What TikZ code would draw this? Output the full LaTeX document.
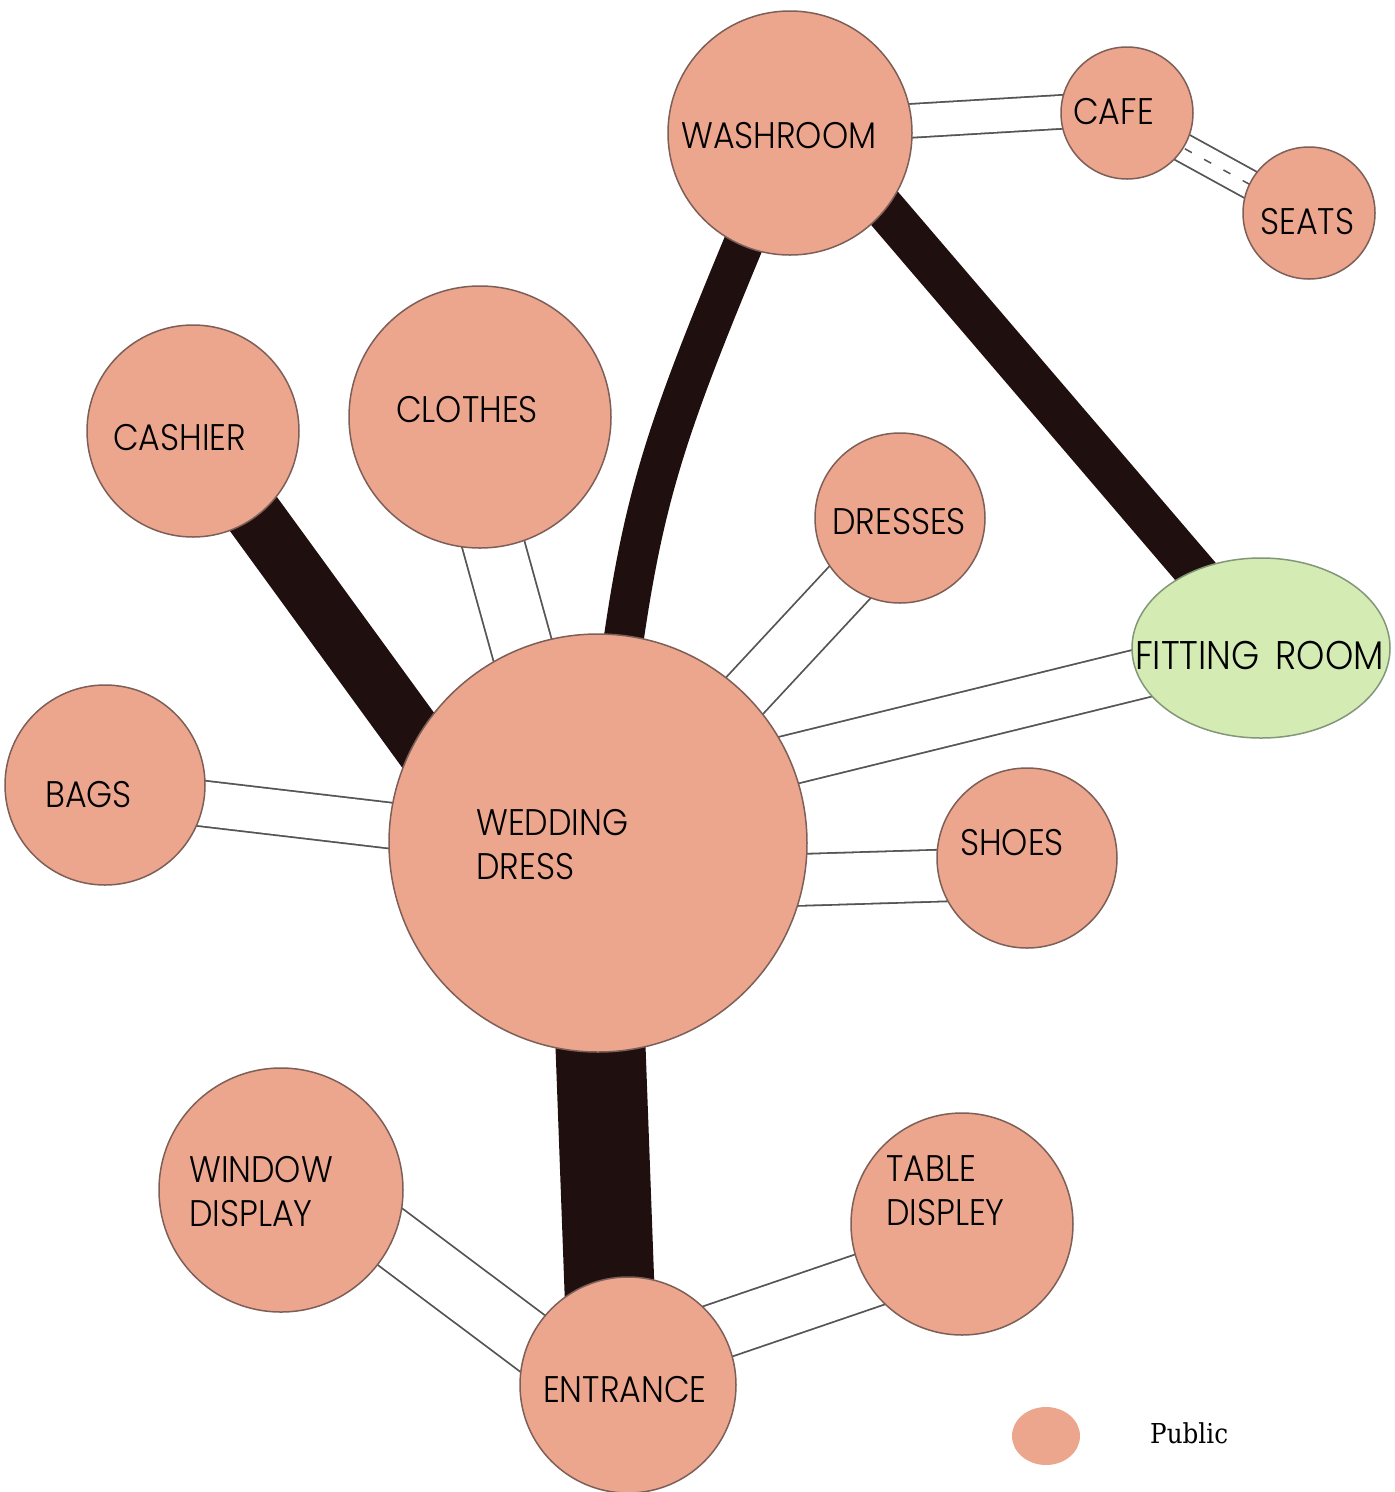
\documentclass[tikz,border=0pt]{standalone}
\usepackage{fontspec}
\usetikzlibrary{shapes.geometric,calc}
\IfFontExistsTF{Poppins Light}{\newfontfamily\lblfont{Poppins Light}[FakeStretch=0.9]}{\newfontfamily\lblfont{Poppins}[FakeStretch=0.9]}
\newfontfamily\legfont{DejaVu Serif}[FakeStretch=0.9]
\definecolor{salmon}{RGB}{236,166,142}
\definecolor{rim}{RGB}{125,95,88}
\definecolor{mint}{RGB}{212,236,180}
\definecolor{mintrim}{RGB}{130,150,120}
\definecolor{band}{RGB}{31,16,15}
\definecolor{wire}{RGB}{85,85,85}
\pgfdeclarelayer{back}\pgfdeclarelayer{bg}\pgfsetlayers{back,bg,main}
\begin{document}
\begin{tikzpicture}[x=1pt,y=-1pt,
  room/.style={circle, fill=salmon, draw=rim, line width=1.5pt, inner sep=0pt, minimum size=#1},
  fitroom/.style={ellipse, fill=mint, draw=mintrim, line width=1.5pt, inner sep=0pt, minimum width=258pt, minimum height=180pt},
  lbl/.style={font=\lblfont\fontsize{37}{44}\selectfont, inner sep=0pt, align=left, text=black},
  heavy/.style={draw=band, line width=#1},
  twin/.style={draw=wire, line width=1.8pt, double=white, double distance=#1},
]
\begin{pgfonlayer}{back}
\fill[white] (0,0) rectangle (1395,1492);
\end{pgfonlayer}
\useasboundingbox (0,0) rectangle (1395,1492);

% rooms
\node[room=244pt] (wash) at (790,133) {};
\node[room=132pt] (cafe) at (1127,113) {};
\node[room=132pt] (seats) at (1309,213) {};
\node[room=212pt] (cash) at (193,431) {};
\node[room=262pt] (cloth) at (480,417) {};
\node[room=170pt] (dress) at (900,518) {};
\node[fitroom] (fit) at (1261,648) {};
\node[room=200pt] (bags) at (105,785) {};
\node[room=418pt] (wed) at (598,843) {};
\node[room=180pt] (shoes) at (1027,858) {};
\node[room=244pt] (win) at (281,1190) {};
\node[room=222pt] (table) at (962,1224) {};
\node[room=216pt] (ent) at (628,1385) {};

% labels
\node[lbl, anchor=west] (t-wash) at (681,136) {WASHROOM};
\node[lbl, anchor=west] (t-cafe) at (1073,112) {CAFE};
\node[lbl, anchor=west] (t-seats) at (1260,222) {SEATS};
\node[lbl, anchor=west] (t-cash) at (113,438) {CASHIER};
\node[lbl, anchor=west] (t-cloth) at (396,410) {CLOTHES};
\node[lbl, anchor=west] (t-dress) at (832,522) {DRESSES};
\node[lbl, anchor=west, font=\lblfont\fontsize{40}{46}\selectfont] (t-fit) at (1135,655) {FITTING\hspace{16pt}ROOM};
\node[lbl, anchor=west] (t-bags) at (45,795) {BAGS};
\node[lbl, anchor=north west] (t-wed) at (476,809) {WEDDING\\DRESS};
\node[lbl, anchor=west] (t-shoes) at (960,843) {SHOES};
\node[lbl, anchor=north west] (t-win) at (189,1156) {WINDOW\\DISPLAY};
\node[lbl, anchor=north west] (t-table) at (886,1155) {TABLE\\DISPLEY};
\node[lbl, anchor=west] (t-ent) at (543,1390) {ENTRANCE};

% legend
\node[ellipse, fill=salmon, minimum width=68pt, minimum height=58pt, inner sep=0pt] (legdot) at (1046,1436) {};
\node[font=\legfont\fontsize{27.4}{32}\selectfont, anchor=base west, inner sep=0pt] (legtxt) at (1150,1443) {Public};

% connectors
\begin{pgfonlayer}{bg}
\draw[twin=32pt] ($(wash.center)+(0,-5)$) -- ($(cafe.center)+(0,-5)$);
\draw[twin=27pt] ($(cafe.center)+(0,4)$) -- ($(seats.center)+(0,4)$);
\draw[wire, line width=1.5pt, dash pattern=on 8pt off 14pt] ($(cafe.center)+(0,4)$) -- ($(seats.center)+(0,4)$);
\draw[twin=60pt] ($(cloth.center)+(-22,0)$) -- ($(wed.center)+(-22,0)$);
\draw[twin=50pt] ($(dress.center)+(5,5)$) -- ($(wed.center)+(5,5)$);
\draw[twin=48pt] ($(fit.center)+(0,-4)$) -- ($(wed.center)+(0,-36)$);
\draw[twin=44pt] ($(bags.center)+(0,7)$) -- ($(wed.center)+(0,7)$);
\draw[twin=50pt] ($(shoes.center)+(0,15)$) -- ($(wed.center)+(0,43)$);
\draw[twin=58pt] ($(win.center)+(0,-35)$) -- ($(ent.center)+(0,30)$);
\draw[twin=55pt] ($(table.center)+(0,24)$) -- ($(ent.center)+(0,-23)$);
\draw[heavy=58pt] (cash.center) -- ($(wed.center)+(-105,0)$);
\draw[heavy=40pt] (wash.center) .. controls (640,489) .. (wed.center);
\draw[heavy=42pt] ($(wash.center)+(30,0)$) -- (fit.center);
\draw[heavy=90pt] ($(wed.center)+(-5,0)$) -- ($(ent.center)+(-15,0)$);
\end{pgfonlayer}
\end{tikzpicture}
\end{document}
